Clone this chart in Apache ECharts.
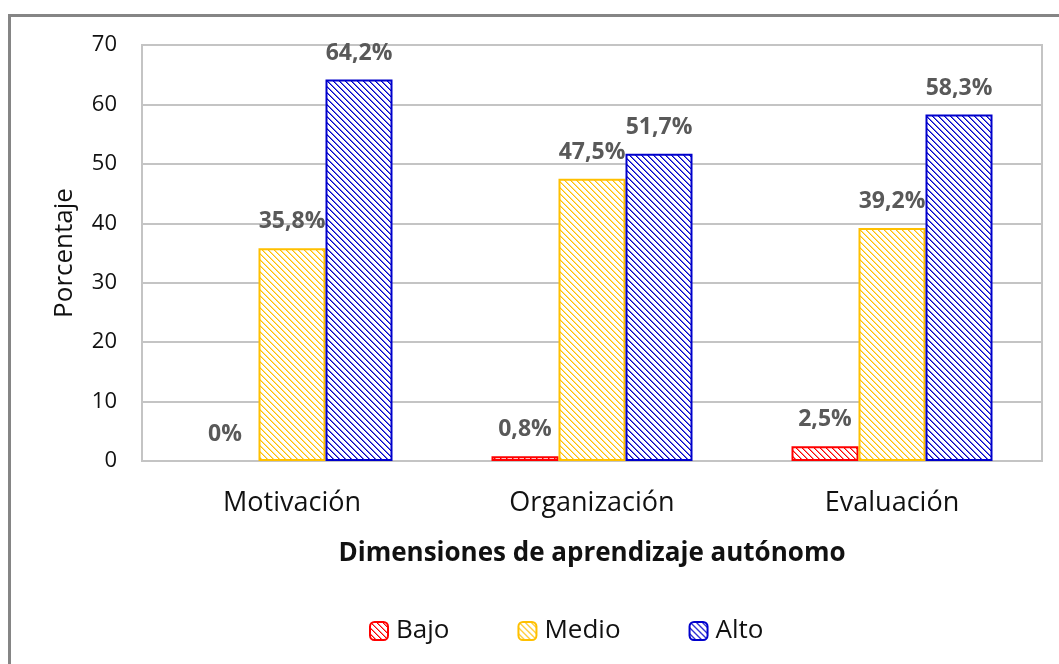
<!DOCTYPE html>
<html>
<head>
<meta charset="utf-8">
<script src="https://cdn.jsdelivr.net/npm/echarts@6/dist/echarts.min.js"></script>
<style>
html,body{margin:0;padding:0;background:#fff;}
#chart{width:1059px;height:664px;}
</style>
</head>
<body>
<div id="chart"></div>
<script>
var categories = ['Motivación', 'Organización', 'Evaluación'];
var seriesNames = ['Bajo', 'Medio', 'Alto'];
var bajo = [0, 0.8, 2.5];
var medio = [35.8, 47.5, 39.2];
var alto = [64.2, 51.7, 58.3];
var yTicks = [0, 10, 20, 30, 40, 50, 60, 70];

var FONT = 'Open Sans';

function hatch(color, light) {
  var n = 6;
  var c = document.createElement('canvas');
  c.width = n; c.height = n;
  var ctx = c.getContext('2d');
  ctx.fillStyle = '#ffffff';
  ctx.fillRect(0, 0, n, n);
  for (var y = 0; y < n; y++) {
    for (var x = 0; x < n; x++) {
      var d = ((x - y) % n + n) % n;
      if (d === 0) { ctx.fillStyle = color; ctx.fillRect(x, y, 1, 1); }
      else if (d === 1) { ctx.fillStyle = light; ctx.fillRect(x, y, 1, 1); }
    }
  }
  return { image: c, repeat: 'repeat' };
}

var colors = ['#FF0000', '#FFC000', '#0000CC'];
var lights = ['#FF8080', '#FFDF80', '#6868E0'];
var dataSets = [bajo, medio, alto];

function fmt(v) {
  if (v === 0) return '0%';
  return v.toFixed(1).replace('.', ',') + '%';
}

var series = seriesNames.map(function (name, i) {
  return {
    name: name,
    type: 'bar',
    barGap: '0%',
    barCategoryGap: '33%',
    data: dataSets[i].map(function (v) {
      return v === 0 ? { value: v, itemStyle: { borderWidth: 0 } } : v;
    }),
    itemStyle: {
      color: hatch(colors[i], lights[i]),
      borderColor: colors[i],
      borderWidth: 2
    },
    label: {
      show: true,
      position: 'top',
      distance: 15,
      fontFamily: FONT,
      fontWeight: 'bold',
      fontSize: 23,
      color: '#595959',
      formatter: function (p) { return fmt(p.value); }
    }
  };
});

var chart = echarts.init(document.getElementById('chart'));
chart.setOption({
  animation: false,
  backgroundColor: '#ffffff',
  graphic: [{
    type: 'rect',
    shape: { x: 9.5, y: 15.5, width: 1100, height: 700 },
    style: { fill: 'none', stroke: '#858585', lineWidth: 3 },
    silent: true
  }],
  grid: {
    left: 142, right: 17, top: 45, bottom: 203,
    show: true, borderColor: '#c4c4c4', borderWidth: 2
  },
  legend: {
    data: seriesNames,
    left: 364,
    top: 613,
    itemWidth: 18,
    itemHeight: 18,
    itemGap: 68,
    textStyle: { fontFamily: FONT, fontSize: 26, color: '#111', padding: [0, 0, 0, 3] }
  },
  xAxis: {
    type: 'category',
    data: categories,
    name: 'Dimensiones de aprendizaje autónomo',
    nameLocation: 'middle',
    nameGap: 80,
    nameTextStyle: { fontFamily: FONT, fontWeight: 'bold', fontSize: 26, color: '#111' },
    axisLine: { lineStyle: { color: '#c4c4c4', width: 2 } },
    axisTick: { show: false },
    axisLabel: { fontFamily: FONT, fontSize: 27, color: '#111', margin: 29 }
  },
  yAxis: {
    type: 'value',
    min: 0, max: 70, interval: 10,
    name: 'Porcentaje',
    nameLocation: 'middle',
    nameGap: 64,
    nameTextStyle: { fontFamily: FONT, fontSize: 26, color: '#111' },
    axisLine: { show: false },
    axisTick: { show: false },
    axisLabel: {
      fontFamily: FONT, fontSize: 22, color: '#111', margin: 25,
      formatter: function (v) { return yTicks.indexOf(v) >= 0 ? String(v) : ''; }
    },
    splitLine: { lineStyle: { color: '#c4c4c4', width: 2 } }
  },
  series: series
});
</script>
</body>
</html>
